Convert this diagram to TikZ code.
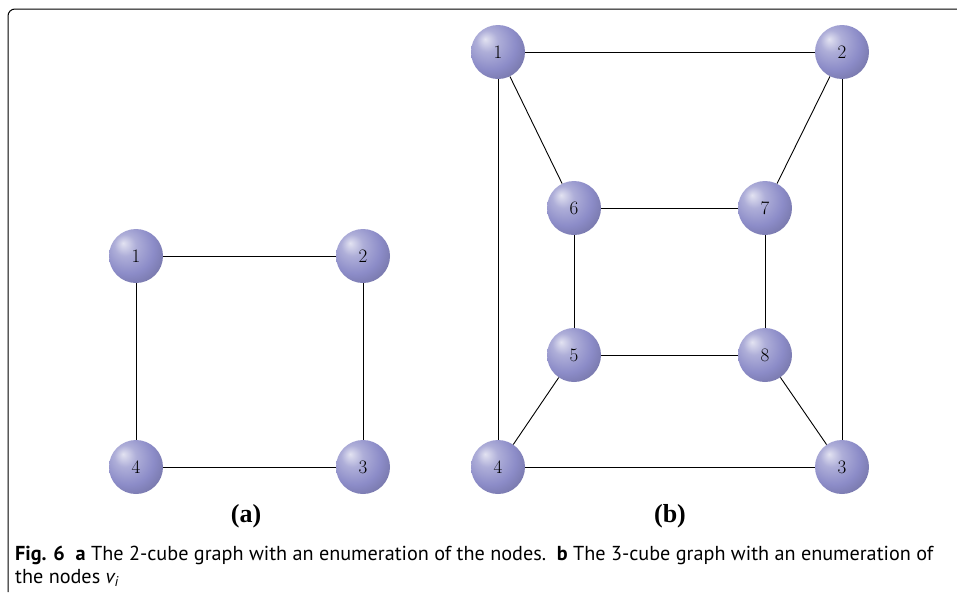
\documentclass[tikz,border=0pt]{standalone}
\usepackage{fontspec}
\newfontfamily\capfont{PT Sans}
\newfontfamily\numfont{Latin Modern Roman}
\newfontfamily\lblfont{Liberation Serif}
\usepackage{tikz}
\usetikzlibrary{shapes,positioning,calc}
\definecolor{ballc}{RGB}{140,140,200}
\pgfdeclareradialshading{lightball}{\pgfqpoint{-12bp}{12bp}}{%
  color(0bp)=(ballc!25!white); color(10bp)=(ballc!70!white); color(24bp)=(ballc);
  color(45bp)=(ballc!70!black); color(64bp)=(ballc!40!black)}

\begin{document}
\begin{tikzpicture}[x=1pt,y=-1pt,
  vtx/.style={circle,shading=lightball,minimum size=54pt,inner sep=0pt,font=\numfont\fontsize{19}{21}\selectfont},
  lbl/.style={font=\lblfont\bfseries\fontsize{26}{28}\selectfont},
  edge/.style={line width=0.9pt}
]
  \useasboundingbox (0,0) rectangle (957,592);
  \draw[line width=1pt,rounded corners=7pt] (957,9) -- (8,9) -- (8,592);
  % (a) square
  \node[vtx] (a1) at (136,256) {1};
  \node[vtx] (a2) at (363,256) {2};
  \node[vtx] (a3) at (363,467) {3};
  \node[vtx] (a4) at (136,467) {4};
  \draw[edge] (a1) -- (a2);
  \draw[edge] (a2) -- (a3);
  \draw[edge] (a3) -- (a4);
  \draw[edge] (a4) -- (a1);
  % (b) cube
  \node[vtx] (b1) at (498,52) {1};
  \node[vtx] (b2) at (842,52) {2};
  \node[vtx] (b3) at (842,467) {3};
  \node[vtx] (b4) at (498,467) {4};
  \node[vtx] (b5) at (574,355) {5};
  \node[vtx] (b6) at (574,208) {6};
  \node[vtx] (b7) at (765,208) {7};
  \node[vtx] (b8) at (765,355) {8};
  \draw[edge] (b1) -- (b2);
  \draw[edge] (b2) -- (b3);
  \draw[edge] (b3) -- (b4);
  \draw[edge] (b4) -- (b1);
  \draw[edge] (b6) -- (b7);
  \draw[edge] (b7) -- (b8);
  \draw[edge] (b8) -- (b5);
  \draw[edge] (b5) -- (b6);
  \draw[edge] (b1) -- (b6);
  \draw[edge] (b2) -- (b7);
  \draw[edge] (b3) -- (b8);
  \draw[edge] (b4) -- (b5);
  \node[lbl] (la) at (246,516) {(a)};
  \node[lbl] (lb) at (670,516) {(b)};
  % caption
  \node[anchor=north west,align=left,inner sep=0pt,font=\capfont\fontsize{20.2}{23}\selectfont] (cap) at (15,546)
    {\textbf{Fig. 6}\ \ \textbf{a} The 2-cube graph with an enumeration of the nodes.\ \ \textbf{b} The 3-cube graph with an enumeration of\\
     the nodes \textit{v\textsubscript{i}}};
\end{tikzpicture}
\end{document}
